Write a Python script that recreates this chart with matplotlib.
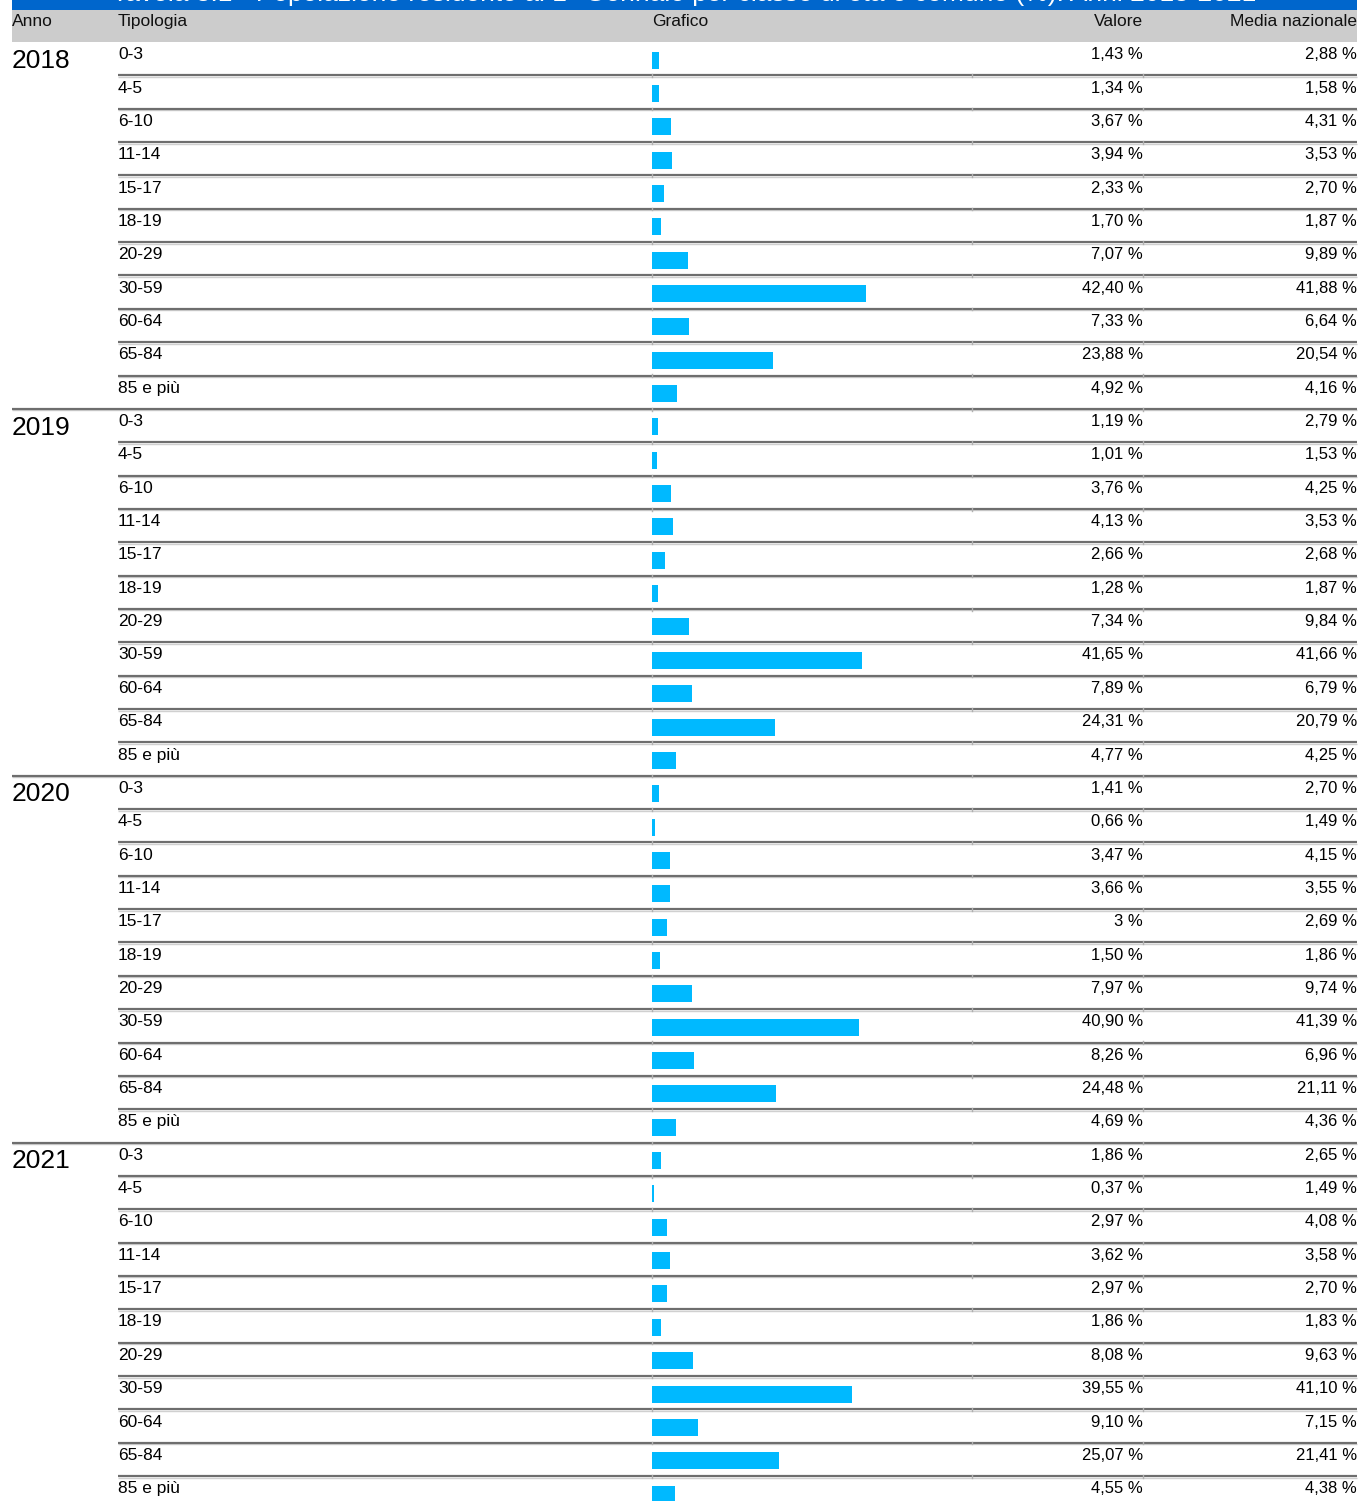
import numpy as np
import matplotlib.pyplot as plt

plt.rcParams['font.family'] = ['Liberation Sans Narrow', 'Liberation Sans', 'DejaVu Sans']

title = "Tavola 3.1 - Popolazione residente al 1° Gennaio per classe di età e comune (%). Anni 2018-2021"
headers = ["Anno", "Tipologia", "Grafico", "Valore", "Media nazionale"]
anni = ["2018", "2019", "2020", "2021"]
classi = ["0-3", "4-5", "6-10", "11-14", "15-17", "18-19", "20-29", "30-59", "60-64", "65-84", "85 e più"]

valore = {
    "2018": [1.43, 1.34, 3.67, 3.94, 2.33, 1.70, 7.07, 42.40, 7.33, 23.88, 4.92],
    "2019": [1.19, 1.01, 3.76, 4.13, 2.66, 1.28, 7.34, 41.65, 7.89, 24.31, 4.77],
    "2020": [1.41, 0.66, 3.47, 3.66, 3.00, 1.50, 7.97, 40.90, 8.26, 24.48, 4.69],
    "2021": [1.86, 0.37, 2.97, 3.62, 2.97, 1.86, 8.08, 39.55, 9.10, 25.07, 4.55],
}
media = {
    "2018": [2.88, 1.58, 4.31, 3.53, 2.70, 1.87, 9.89, 41.88, 6.64, 20.54, 4.16],
    "2019": [2.79, 1.53, 4.25, 3.53, 2.68, 1.87, 9.84, 41.66, 6.79, 20.79, 4.25],
    "2020": [2.70, 1.49, 4.15, 3.55, 2.69, 1.86, 9.74, 41.39, 6.96, 21.11, 4.36],
    "2021": [2.65, 1.49, 4.08, 3.58, 2.70, 1.83, 9.63, 41.10, 7.15, 21.41, 4.38],
}


def fmt(v):
    if abs(v - round(v)) < 1e-9:
        return "%d %%" % round(v)
    return ("%.2f %%" % v).replace(".", ",")


W, H = 1358, 1501
row_h = 33.35
top = 42.0
fig = plt.figure(figsize=(W / 100, H / 100), dpi=100)

# table axes: x in pixels, y in row units
ax = fig.add_axes([0, 0, 1, 1])
r_top = -top / row_h
r_bot = (H - top) / row_h
ax.set_xlim(0, W)
ax.set_ylim(r_bot, r_top)
ax.axis('off')

# title bar (its text is cut by the top edge, as in the original) and header
ax.fill_between([12, 1357], r_top, (10 - top) / row_h, color='#0066cc', lw=0)
ax.text(684, (6 - top) / row_h, title, color='white', fontsize=19, ha='center', va='bottom',
        family=['Liberation Sans', 'DejaVu Sans'])
ax.fill_between([12, 1357], (10 - top) / row_h, 0, color='#cccccc', lw=0)
hx = [12, 118, 652, 1143, 1357]
ha = ['left', 'left', 'left', 'right', 'right']
for x, h, a in zip(hx, headers, ha):
    ax.text(x, -0.6, h, fontsize=12.5, ha=a, va='center', color='#111111')

n = len(classi)
for k, anno in enumerate(anni):
    ax.text(12, k * n + 0.56, anno, fontsize=19, ha='left', va='center', color='black')
    for i, c in enumerate(classi):
        r = k * n + i
        ax.text(118, r + 0.38, c, fontsize=12.5, ha='left', va='center', color='black')
        ax.text(1143, r + 0.38, fmt(valore[anno][i]), fontsize=12, ha='right', va='center', color='black')
        ax.text(1357, r + 0.38, fmt(media[anno][i]), fontsize=12, ha='right', va='center', color='black')

# separators
for r in range(1, len(anni) * n + 1):
    x0 = 12 if r % n == 0 else 118
    ax.plot([x0, 1357], [r + 0.045, r + 0.045], color='#d0d0d0', lw=1.0, solid_capstyle='butt')
    ax.plot([x0, 1357], [r, r], color='#6e6e6e', lw=1.6, solid_capstyle='butt')
    for xv in [652, 972, 1143]:
        ax.plot([xv, xv], [r - 0.03, r + 0.05], color='#b0b0b0', lw=1.0)

# bar axes: x in percent
scale = 5.05
bx = fig.add_axes([652 / W, 0, (972 - 652) / W, 1])
bx.set_xlim(0, (972 - 652) / scale)
bx.set_ylim(r_bot, r_top)
bx.axis('off')
bx.patch.set_alpha(0)
ys = np.arange(len(anni) * n) + 0.54
vals = np.concatenate([valore[a] for a in anni])
bx.barh(ys, vals, height=0.51, left=0, color='#00b9ff', lw=0)

fig.savefig('out.png', dpi=100)
